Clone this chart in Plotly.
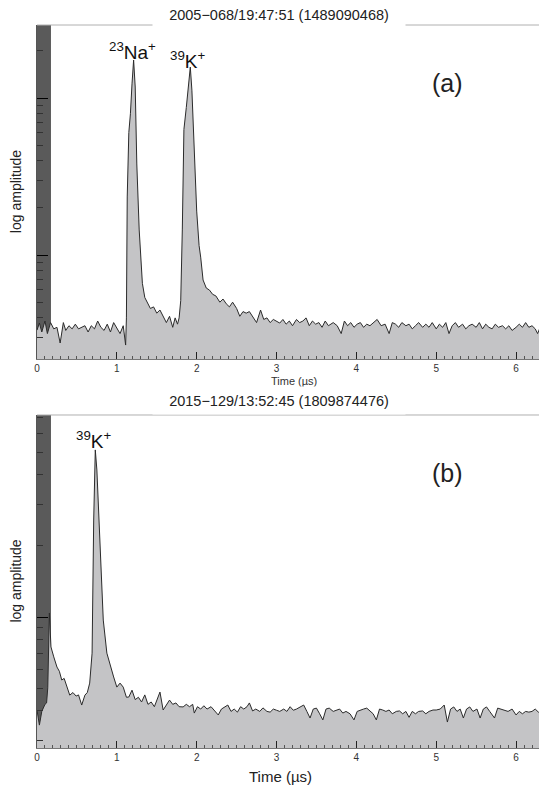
import numpy as np
import plotly.graph_objects as go

# ---------------- data (log10 amplitude) ----------------
t_a = [0.00, 0.03, 0.06, 0.10, 0.13, 0.17, 0.21, 0.25, 0.29, 0.33, 0.36, 0.40, 0.44, 0.48,
       0.52, 0.56, 0.60, 0.64, 0.68, 0.72, 0.76, 0.80, 0.84, 0.88, 0.92, 0.96, 1.00, 1.04,
       1.08, 1.11, 1.12, 1.13, 1.15, 1.17, 1.19, 1.21, 1.23, 1.25, 1.28, 1.32, 1.35, 1.38,
       1.42, 1.46, 1.50, 1.54, 1.58, 1.62, 1.66, 1.70, 1.73, 1.76, 1.78, 1.80, 1.82, 1.84,
       1.87, 1.90, 1.92, 1.94, 1.97, 2.00, 2.03, 2.05, 2.08, 2.12, 2.16, 2.20, 2.24, 2.29,
       2.33, 2.37, 2.41, 2.45, 2.50, 2.54, 2.58, 2.62, 2.66, 2.70, 2.75, 2.80, 2.84, 2.88,
       2.92, 2.96, 3.00, 3.04, 3.08, 3.12, 3.16, 3.20, 3.25, 3.29, 3.33, 3.37, 3.41, 3.45,
       3.49, 3.53, 3.57, 3.61, 3.65, 3.71, 3.76, 3.81, 3.85, 3.89, 3.93, 3.97, 4.01, 4.05,
       4.09, 4.13, 4.17, 4.21, 4.26, 4.31, 4.36, 4.41, 4.45, 4.49, 4.53, 4.57, 4.62, 4.66,
       4.70, 4.74, 4.78, 4.83, 4.87, 4.91, 4.95, 5.00, 5.04, 5.08, 5.12, 5.16, 5.20, 5.24,
       5.28, 5.33, 5.37, 5.41, 5.45, 5.50, 5.54, 5.58, 5.62, 5.66, 5.70, 5.74, 5.78, 5.83,
       5.87, 5.91, 5.95, 6.00, 6.04, 6.08, 6.12, 6.16, 6.20, 6.24, 6.27, 6.31, 6.35, 6.38]
logamp_a = [-1.478, -1.433, -1.49, -1.42, -1.50, -1.43, -1.47, -1.46, -1.56, -1.43, -1.48, -1.45, -1.47, -1.44,
            -1.47, -1.46, -1.45, -1.49, -1.45, -1.47, -1.42, -1.46, -1.48, -1.44, -1.49, -1.43, -1.47, -1.50,
            -1.45, -1.573, -1.40, -0.63, -0.22, -0.10, 0.09, 0.242, 0.07, -0.42, -0.84, -1.18, -1.27, -1.30,
            -1.34, -1.33, -1.37, -1.35, -1.39, -1.43, -1.39, -1.46, -1.40, -1.44, -1.40, -1.29, -0.84, -0.20,
            -0.06, 0.10, 0.197, 0.05, -0.35, -0.72, -0.94, -1.013, -1.159, -1.21, -1.223, -1.25, -1.26, -1.30,
            -1.28, -1.31, -1.33, -1.30, -1.34, -1.39, -1.36, -1.37, -1.36, -1.39, -1.43, -1.35, -1.41, -1.40,
            -1.43, -1.41, -1.42, -1.433, -1.41, -1.44, -1.42, -1.45, -1.41, -1.43, -1.42, -1.40, -1.45, -1.42,
            -1.44, -1.43, -1.46, -1.42, -1.45, -1.43, -1.45, -1.50, -1.42, -1.45, -1.43, -1.46, -1.44, -1.43,
            -1.46, -1.44, -1.45, -1.43, -1.41, -1.45, -1.44, -1.50, -1.43, -1.44, -1.46, -1.43, -1.45, -1.44,
            -1.47, -1.45, -1.43, -1.46, -1.44, -1.46, -1.43, -1.47, -1.44, -1.46, -1.43, -1.50, -1.45, -1.43,
            -1.46, -1.44, -1.47, -1.45, -1.44, -1.46, -1.43, -1.47, -1.44, -1.46, -1.47, -1.44, -1.46, -1.45,
            -1.47, -1.45, -1.48, -1.46, -1.44, -1.46, -1.43, -1.46, -1.45, -1.47, -1.50, -1.45, -1.44, -1.47]

t_b = [0.00, 0.03, 0.06, 0.10, 0.12, 0.135, 0.155, 0.175, 0.21, 0.25, 0.28, 0.31, 0.34, 0.375,
       0.41, 0.45, 0.49, 0.52, 0.56, 0.60, 0.63, 0.66, 0.69, 0.71, 0.73, 0.75, 0.79, 0.83,
       0.875, 0.92, 0.96, 1.00, 1.04, 1.08, 1.12, 1.15, 1.19, 1.23, 1.27, 1.31, 1.35, 1.39,
       1.43, 1.47, 1.51, 1.54, 1.58, 1.62, 1.66, 1.70, 1.74, 1.78, 1.83, 1.87, 1.91, 1.95,
       1.97, 2.01, 2.05, 2.09, 2.13, 2.18, 2.23, 2.27, 2.31, 2.35, 2.39, 2.43, 2.47, 2.51,
       2.55, 2.59, 2.63, 2.66, 2.70, 2.74, 2.79, 2.83, 2.88, 2.92, 2.96, 3.00, 3.04, 3.09,
       3.13, 3.17, 3.21, 3.25, 3.30, 3.34, 3.38, 3.42, 3.46, 3.50, 3.54, 3.58, 3.62, 3.66,
       3.71, 3.75, 3.79, 3.83, 3.87, 3.92, 3.97, 4.01, 4.05, 4.09, 4.13, 4.17, 4.21, 4.25,
       4.29, 4.33, 4.37, 4.41, 4.45, 4.50, 4.54, 4.58, 4.62, 4.66, 4.70, 4.74, 4.78, 4.83,
       4.87, 4.91, 4.96, 5.00, 5.05, 5.10, 5.14, 5.18, 5.22, 5.26, 5.30, 5.34, 5.38, 5.42,
       5.46, 5.51, 5.55, 5.59, 5.63, 5.67, 5.73, 5.77, 5.81, 5.86, 5.90, 5.95, 6.00, 6.04,
       6.08, 6.12, 6.16, 6.20, 6.24, 6.28, 6.32, 6.36, 6.39]
logamp_b = [-0.394, -0.458, -0.40, -0.37, -0.364, -0.30, 0.017, -0.127, -0.169, -0.212, -0.23, -0.267, -0.26, -0.297,
            -0.331, -0.32, -0.335, -0.33, -0.373, -0.331, -0.32, -0.280, -0.153, 0.411, 0.708, 0.623, 0.271, -0.013,
            -0.153, -0.212, -0.254, -0.297, -0.280, -0.297, -0.34, -0.339, -0.31, -0.35, -0.34, -0.36, -0.33, -0.37,
            -0.36, -0.38, -0.34, -0.318, -0.394, -0.37, -0.352, -0.37, -0.364, -0.38, -0.381, -0.37, -0.38, -0.37,
            -0.407, -0.38, -0.39, -0.376, -0.39, -0.38, -0.40, -0.415, -0.39, -0.38, -0.373, -0.40, -0.39, -0.403,
            -0.38, -0.39, -0.38, -0.364, -0.398, -0.39, -0.40, -0.385, -0.40, -0.403, -0.39, -0.395, -0.40, -0.39,
            -0.40, -0.38, -0.395, -0.39, -0.38, -0.373, -0.40, -0.428, -0.39, -0.386, -0.41, -0.436, -0.39, -0.386,
            -0.40, -0.394, -0.39, -0.407, -0.40, -0.41, -0.436, -0.40, -0.394, -0.39, -0.386, -0.40, -0.41, -0.436,
            -0.39, -0.394, -0.40, -0.394, -0.41, -0.40, -0.398, -0.41, -0.40, -0.425, -0.40, -0.41, -0.40, -0.398,
            -0.41, -0.40, -0.394, -0.394, -0.39, -0.373, -0.445, -0.39, -0.381, -0.40, -0.39, -0.428, -0.39, -0.381,
            -0.40, -0.39, -0.428, -0.39, -0.381, -0.40, -0.428, -0.386, -0.39, -0.394, -0.40, -0.39, -0.415, -0.40,
            -0.41, -0.40, -0.403, -0.40, -0.39, -0.403, -0.40, -0.41, -0.428]

titles = ["2005\u2212068/19:47:51 (1489090468)", "2015\u2212129/13:52:45 (1809874476)"]
panel_tags = ["(a)", "(b)"]
x_ticks = [0, 1, 2, 3, 4, 5, 6]
x_range = [0, 6.375]
dead_time = 0.175          # dark band at the start of each record
yrange_a = [-1.662, 0.465]
yrange_b = [-0.555, 0.856]
a_minor_amp = [0.03, 0.04, 0.05, 0.06, 0.07, 0.08, 0.09, 0.2, 0.3, 0.4, 0.5, 0.6, 0.7, 0.8, 0.9, 2]
a_major_amp = [0.1, 1]
b_minor_amp = [0.3, 0.4, 0.5, 0.6, 0.7, 0.8, 0.9, 2, 3, 4, 5, 6, 7]
b_major_amp = [1]

# ---------------- figure ----------------
FONT = "Liberation Sans, Arial, Helvetica, sans-serif"
FILL = "#c4c4c6"
LINE = "#2b2b2b"
DARK = "#5a5a5a"

fig = go.Figure()

panels = [
    dict(t=t_a, v=logamp_a, yr=yrange_a, xa="x", ya="y"),
    dict(t=t_b, v=logamp_b, yr=yrange_b, xa="x2", ya="y2"),
]
for p in panels:
    # invisible floor trace so the fill reaches the bottom of the axis
    fig.add_trace(go.Scatter(x=[p["t"][0], p["t"][-1]], y=[p["yr"][0], p["yr"][0]],
                             mode="lines", line=dict(width=0), showlegend=False,
                             hoverinfo="skip", xaxis=p["xa"], yaxis=p["ya"]))
    fig.add_trace(go.Scatter(x=p["t"], y=p["v"], mode="lines", fill="tonexty",
                             fillcolor=FILL, line=dict(color=LINE, width=1),
                             showlegend=False, xaxis=p["xa"], yaxis=p["ya"]))
    # dark dead-time band
    fig.add_shape(type="rect", xref=p["xa"], yref=p["ya"] + " domain",
                  x0=0, x1=dead_time, y0=0, y1=1, fillcolor=DARK,
                  line=dict(width=0), layer="below")
    # light top & right frame
    fig.add_shape(type="line", xref=p["xa"] + " domain", yref=p["ya"] + " domain",
                  x0=0, x1=1, y0=1, y1=1, line=dict(color="#b0b0b0", width=1))
    fig.add_shape(type="line", xref=p["xa"] + " domain", yref=p["ya"] + " domain",
                  x0=1, x1=1, y0=0, y1=1, line=dict(color="#c0c0c0", width=1))

xcommon = dict(range=x_range, tickmode="array", tickvals=x_ticks,
               ticktext=[str(v) for v in x_ticks], ticks="inside", ticklen=7,
               tickwidth=1, tickcolor="#222", showline=True, linecolor="#777",
               linewidth=1, showgrid=False, zeroline=False,
               tickfont=dict(family=FONT, size=10, color="#333"),
               minor=dict(tick0=0, dtick=0.1, ticks="inside", ticklen=3,
                          tickcolor="#555", tickwidth=1, showgrid=False))

def ycommon(yr, major, minor):
    return dict(range=yr, tickmode="array", tickvals=list(np.log10(major)),
                showticklabels=False, ticks="inside", ticklen=11, tickwidth=1.2,
                tickcolor="#000", showline=True, linecolor="#555", linewidth=1,
                showgrid=False, zeroline=False,
                minor=dict(tickmode="array", tickvals=list(np.log10(minor)),
                           ticks="inside", ticklen=6, tickcolor="#333",
                           tickwidth=1, showgrid=False))

dom_a = [0.538, 1.0]
dom_b = [0.0, 0.4606]

# the page body has an 8px margin, so the figure is sized to sit at (8, 8)
fig.update_layout(
    width=539, height=784,
    margin=dict(l=29, r=1, t=17, b=44),
    paper_bgcolor="white", plot_bgcolor="white",
    font=dict(family=FONT, color="#222"),
    xaxis=dict(domain=[0, 1], anchor="y", **xcommon),
    yaxis=dict(domain=dom_a, anchor="x", **ycommon(yrange_a, a_major_amp, a_minor_amp)),
    xaxis2=dict(domain=[0, 1], anchor="y2", **xcommon),
    yaxis2=dict(domain=dom_b, anchor="x2", **ycommon(yrange_b, b_major_amp, b_minor_amp)),
)

C = dict(xanchor="center", yanchor="middle", showarrow=False)
ann = []
# panel (a) title, with a white box that interrupts the top frame line
ann.append(dict(text=titles[0], xref="paper", yref="paper", x=0.475, y=1.0138,
                bgcolor="white", width=250, height=24,
                font=dict(size=14.5, color="#222"), **C))
# y titles
for dom in (dom_a, dom_b):
    ann.append(dict(text="log amplitude", xref="paper", yref="paper", x=-0.041,
                    y=(dom[0] + dom[1]) / 2, textangle=-90,
                    font=dict(size=14, color="#222"), **C))
# x titles
ann.append(dict(text="Time (\u00b5s)", xref="paper", yref="paper", x=0.504, y=0.5076,
                font=dict(size=11, color="#333"), **C))
# panel (b) title (its white box hides the lower part of the small axis title above)
ann.append(dict(text=titles[1], xref="paper", yref="paper", x=0.475, y=0.480,
                bgcolor="white", width=250, height=25,
                font=dict(size=14.5, color="#222"), **C))
ann.append(dict(text="Time (\u00b5s)", xref="paper", yref="paper", x=0.479, y=-0.0401,
                font=dict(size=15, color="#222"), **C))
# panel tags
ann.append(dict(text=panel_tags[0], xref="x domain", yref="y domain", x=0.807, y=0.826,
                font=dict(size=25, color="#222"), **C))
ann.append(dict(text=panel_tags[1], xref="x2 domain", yref="y2 domain", x=0.807, y=0.826,
                font=dict(size=25, color="#222"), **C))
# peak labels
ann.append(dict(text="<sup>23</sup>Na<sup>+</sup>", xref="x", yref="y", x=1.2, y=0.30,
                font=dict(size=19, color="#111"), **C))
ann.append(dict(text="<sup>39</sup>K<sup>+</sup>", xref="x", yref="y", x=1.89, y=0.245,
                font=dict(size=19, color="#111"), **C))
ann.append(dict(text="<sup>39</sup>K<sup>+</sup>", xref="x2", yref="y2", x=0.712, y=0.75,
                font=dict(size=19, color="#111"), **C))
fig.update_layout(annotations=ann)

fig.write_html("out.html")
